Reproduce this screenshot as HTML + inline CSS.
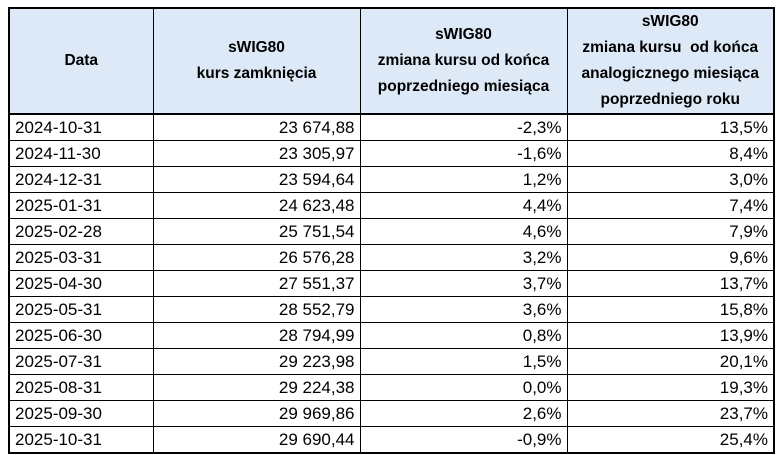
<!DOCTYPE html>
<html><head><meta charset="utf-8"><style>
body{margin:0;background:#fff;width:777px;height:455px;overflow:hidden}
table{position:absolute;left:8px;top:7px;border-collapse:collapse;font-family:"Liberation Sans",sans-serif;color:#000;border:2px solid #000}
td,th{border:1px solid #000;padding:0 5px;height:25px;font-size:17px;line-height:25px}
td{text-align:right;white-space:nowrap}
td:first-child{text-align:left}
th{background:#dde9f6;font-size:15.5px;font-weight:bold;line-height:26px;height:103px;text-align:center;border-bottom:2px solid #000;padding:0 2px;white-space:nowrap}
</style></head><body>
<table>
<colgroup><col style="width:144px"><col style="width:207px"><col style="width:207px"><col style="width:207px"></colgroup>
<tr><th>Data</th><th>sWIG80<br>kurs zamknięcia</th><th>sWIG80<br>zmiana kursu od końca<br>poprzedniego miesiąca</th><th>sWIG80<br>zmiana kursu&nbsp; od końca<br>analogicznego miesiąca<br>poprzedniego roku</th></tr>
<tr><td>2024-10-31</td><td>23 674,88</td><td>-2,3%</td><td>13,5%</td></tr>
<tr><td>2024-11-30</td><td>23 305,97</td><td>-1,6%</td><td>8,4%</td></tr>
<tr><td>2024-12-31</td><td>23 594,64</td><td>1,2%</td><td>3,0%</td></tr>
<tr><td>2025-01-31</td><td>24 623,48</td><td>4,4%</td><td>7,4%</td></tr>
<tr><td>2025-02-28</td><td>25 751,54</td><td>4,6%</td><td>7,9%</td></tr>
<tr><td>2025-03-31</td><td>26 576,28</td><td>3,2%</td><td>9,6%</td></tr>
<tr><td>2025-04-30</td><td>27 551,37</td><td>3,7%</td><td>13,7%</td></tr>
<tr><td>2025-05-31</td><td>28 552,79</td><td>3,6%</td><td>15,8%</td></tr>
<tr><td>2025-06-30</td><td>28 794,99</td><td>0,8%</td><td>13,9%</td></tr>
<tr><td>2025-07-31</td><td>29 223,98</td><td>1,5%</td><td>20,1%</td></tr>
<tr><td>2025-08-31</td><td>29 224,38</td><td>0,0%</td><td>19,3%</td></tr>
<tr><td>2025-09-30</td><td>29 969,86</td><td>2,6%</td><td>23,7%</td></tr>
<tr><td>2025-10-31</td><td>29 690,44</td><td>-0,9%</td><td>25,4%</td></tr>
</table>
</body></html>
